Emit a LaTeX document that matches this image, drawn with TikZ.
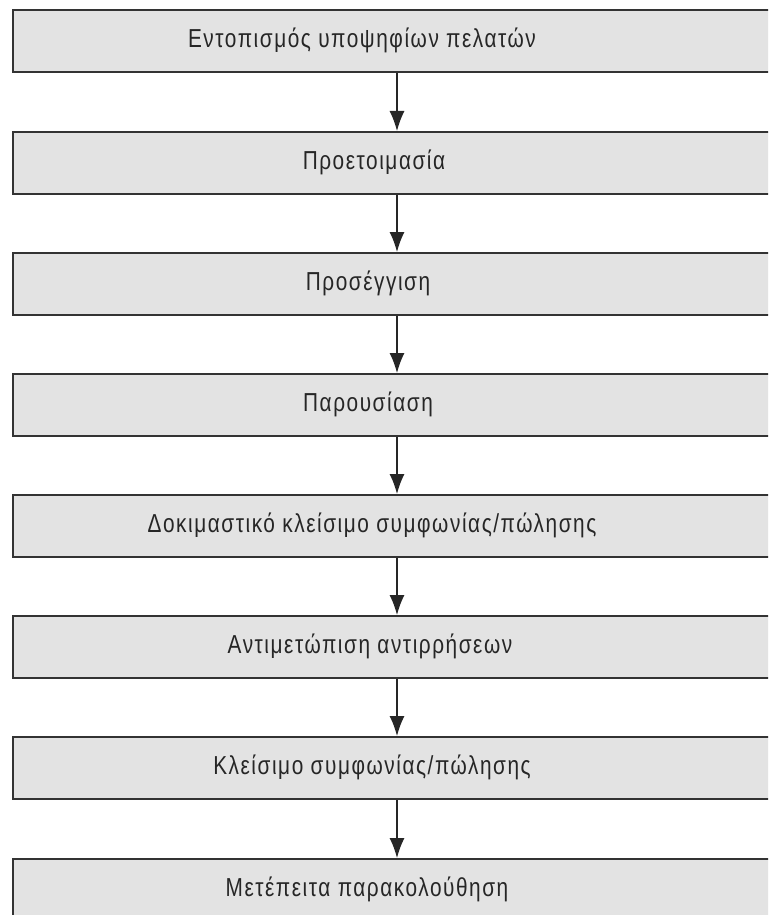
\documentclass[tikz,border=0pt]{standalone}
\usepackage{fontspec}
\setmainfont{Liberation Sans}[FakeStretch=0.8,LetterSpace=6]
\usetikzlibrary{arrows.meta}
\tikzset{
  stagebox/.style={draw=black!80, line width=2.2pt, fill=black!11, minimum width=790pt, minimum height=62pt, anchor=north west, inner sep=0pt},
  lbl/.style={font=\fontsize{26}{30}\selectfont, text=black!85, inner sep=0pt},
  flow/.style={draw=black!85, line width=1.3pt, -{Latex[length=20pt,width=15pt]}}
}
\begin{document}
\begin{tikzpicture}[x=1pt,y=-1pt]
\clip (0,0) rectangle (768,915);
\fill[white] (0,0) rectangle (768,915);
\coordinate (ax) at (397,0);
\node[stagebox] (b1) at (12,9) {};
\node[stagebox] (b2) at (12,131) {};
\node[stagebox] (b3) at (12,252) {};
\node[stagebox] (b4) at (12,373) {};
\node[stagebox] (b5) at (12,494) {};
\node[stagebox] (b6) at (12,615) {};
\node[stagebox] (b7) at (12,736) {};
\node[stagebox] (b8) at (12,858) {};
\node[lbl] (t1) at (362,40) {Εντοπισμός υποψηφίων πελατών};
\node[lbl] (t2) at (374,162) {Προετοιμασία};
\node[lbl] (t3) at (368,283) {Προσέγγιση};
\node[lbl] (t4) at (368,404) {Παρουσίαση};
\node[lbl] (t5) at (372,525) {Δοκιμαστικό κλείσιμο συμφωνίας/πώλησης};
\node[lbl] (t6) at (370,646) {Αντιμετώπιση αντιρρήσεων};
\node[lbl] (t7) at (372,767) {Κλείσιμο συμφωνίας/πώλησης};
\node[lbl] (t8) at (367,889) {Μετέπειτα παρακολούθηση};
\draw[flow] (b1.south -| ax) -- (b2.north -| ax);
\draw[flow] (b2.south -| ax) -- (b3.north -| ax);
\draw[flow] (b3.south -| ax) -- (b4.north -| ax);
\draw[flow] (b4.south -| ax) -- (b5.north -| ax);
\draw[flow] (b5.south -| ax) -- (b6.north -| ax);
\draw[flow] (b6.south -| ax) -- (b7.north -| ax);
\draw[flow] (b7.south -| ax) -- (b8.north -| ax);
\end{tikzpicture}
\end{document}
